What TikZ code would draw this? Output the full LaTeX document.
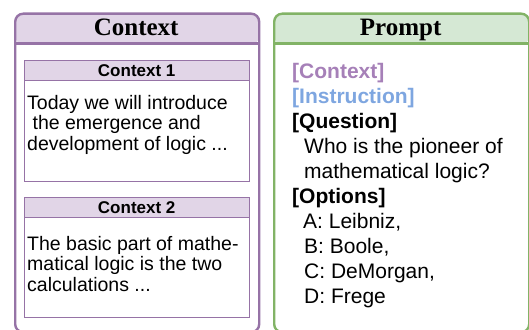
\documentclass[tikz,border=0pt]{standalone}
\usepackage{fontspec}
\setmainfont{Liberation Sans}
\newfontfamily\lanefont{Liberation Serif}
\usetikzlibrary{positioning}
\definecolor{ctxline}{HTML}{9673A6}
\definecolor{ctxfill}{HTML}{E1D5E7}
\definecolor{prmline}{HTML}{82B366}
\definecolor{prmfill}{HTML}{D5E8D4}
\definecolor{ctxtext}{HTML}{A680B8}
\definecolor{instext}{HTML}{7EA6E0}

\begin{document}
\begin{tikzpicture}[
    x=1pt, y=-1pt,
    lane/.style 2 args={draw=#1, line width=2.4pt, rounded corners=8pt,
                        anchor=north west, inner sep=0pt, minimum height=318.5pt,
                        path picture={\fill[#2] (path picture bounding box.north west)
                          rectangle ([yshift=-30.5pt]path picture bounding box.north east);}},
    lanehead/.style={anchor=north west, inner sep=0pt, minimum height=30.5pt,
                     text height=19pt, text depth=3pt,
                     font=\lanefont\bfseries\fontsize{25}{28}\selectfont},
    card/.style={draw=ctxline, line width=1.3pt, anchor=north west, inner sep=0pt,
                 minimum width=225pt,
                 path picture={\fill[ctxfill] (path picture bounding box.north west)
                   rectangle ([yshift=-20pt]path picture bounding box.north east);}},
    cardhead/.style={anchor=north west, inner sep=0pt, minimum width=225pt,
                     minimum height=20pt, font=\bfseries\fontsize{17}{20}\selectfont},
    cardtext/.style={anchor=base west, inner sep=0pt, align=left,
                     font=\fontsize{19.5}{20.5}\selectfont},
    prompttext/.style={anchor=base west, inner sep=0pt, align=left,
                       font=\fontsize{21}{25}\selectfont}
]
\useasboundingbox (0,0) rectangle (529,329);
\clip (0,0) rectangle (529,329);

% left lane
\node[lane={ctxline}{ctxfill}, minimum width=244pt] (ctx) at (14,12.5) {};
\node[lanehead, minimum width=244pt] (ctxhead) at (14,12.5) {Context};
\draw[ctxline, line width=2.4pt] (ctxhead.south west) -- (ctxhead.south east);

\node[card, minimum height=121pt] (card1) at (24,60) {};
\node[cardhead] (card1head) at (24,60) {Context 1};
\draw[ctxline, line width=1.3pt] (card1head.south west) -- (card1head.south east);
% base = last line
\node[cardtext] (card1text) at (27,150) {Today we will introduce\\\ the emergence and\\development of logic ...};

\node[card, minimum height=120pt] (card2) at (24,197) {};
\node[cardhead] (card2head) at (24,197) {Context 2};
\draw[ctxline, line width=1.3pt] (card2head.south west) -- (card2head.south east);
\node[cardtext] (card2text) at (27,291) {The basic part of mathe-\\matical logic is the two\\calculations ...};

% right lane
\node[lane={prmline}{prmfill}, minimum width=255pt] (prm) at (273,12.5) {};
\node[lanehead, minimum width=255pt] (prmhead) at (273,12.5) {Prompt};
\draw[prmline, line width=2.4pt] (prmhead.south west) -- (prmhead.south east);

\node[prompttext] (prmtext) at (292,303) {%
  \textcolor{ctxtext}{\textbf{[Context]}}\\
  \textcolor{instext}{\textbf{[Instruction]}}\\
  \textbf{[Question]}\\
  \hspace*{12pt}Who is the pioneer of\\
  \hspace*{12pt}mathematical logic?\\
  \textbf{[Options]}\\
  \hspace*{11pt}A: Leibniz,\\
  \hspace*{12pt}B: Boole,\\
  \hspace*{12pt}C: DeMorgan,\\
  \hspace*{12pt}D: Frege};
\end{tikzpicture}
\end{document}
